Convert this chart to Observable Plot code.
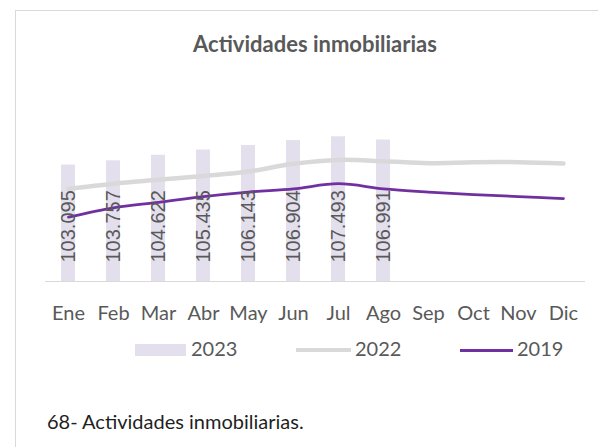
<!DOCTYPE html>
<html><head><meta charset="utf-8">
<script src="https://cdn.jsdelivr.net/npm/d3@7"></script>
<script src="https://cdn.jsdelivr.net/npm/@observablehq/plot@0.6"></script>
<style>
body{margin:0;background:#fff;font-family:Lato,sans-serif;}
#wrap{position:relative;width:598px;height:447px;overflow:hidden;background:#fff;}
#frame{position:absolute;left:15px;top:10px;width:650px;height:500px;border:1px solid #d9d9d9;}
#title{position:absolute;left:45px;width:540px;top:30.5px;text-align:center;font-weight:700;font-size:22px;line-height:26px;color:#595959;}
#chart{position:absolute;left:0;top:60px;}
.leg{position:absolute;top:336px;height:24px;font-size:20px;line-height:24px;color:#595959;}
.sw{position:absolute;}
#caption{position:absolute;left:47px;top:408.5px;font-size:20px;line-height:24px;color:#1f1f1f;}
</style></head>
<body>
<div id="wrap">
<div id="frame"></div>
<div id="title">Actividades inmobiliarias</div>
<div id="chart"></div>
<div id="legend"></div>
<div id="caption">68- Actividades inmobiliarias.</div>
</div>
<script>
const months = ["Ene","Feb","Mar","Abr","May","Jun","Jul","Ago","Sep","Oct","Nov","Dic"];
const values2023 = [103.095,103.757,104.622,105.435,106.143,106.904,107.493,106.991];
const values2022 = [99.4,100.2,100.8,101.4,102.1,103.3,103.9,103.7,103.4,103.55,103.55,103.35];
const values2019 = [95.0,96.46,97.3,98.2,98.9,99.4,100.2,99.4,98.9,98.5,98.2,97.9];
const seriesNames = ["2023","2022","2019"];
const colors = {"2023":"#e4dfec","2022":"#d9d9d9","2019":"#7030a0"};

const bars = values2023.map((v,i)=>({month:months[i], value:v}));
const l2022 = values2022.map((v,i)=>({month:months[i], value:v}));
const l2019 = values2019.map((v,i)=>({month:months[i], value:v}));

const chart = Plot.plot({
  width: 598,
  height: 270,
  marginLeft: 45,
  marginRight: 13,
  marginTop: 28,
  marginBottom: 49,
  style: {fontFamily: "Lato, sans-serif", fontSize: "20px", color: "#595959", background: "transparent"},
  x: {domain: months, paddingInner: 0.7, paddingOuter: 0.35, label: null},
  y: {domain: [85, 115], axis: null},
  marks: [
    Plot.barY(bars, {x: "month", y1: 85, y2: "value", fill: colors["2023"]}),
    Plot.ruleY([85], {stroke: "#d9d9d9", strokeWidth: 1}),
    Plot.line(l2022, {x: "month", y: "value", stroke: colors["2022"], strokeWidth: 4.5, curve: "catmull-rom"}),
    Plot.line(l2019, {x: "month", y: "value", stroke: colors["2019"], strokeWidth: 2.75, curve: "catmull-rom"}),
    Plot.text(bars, {x: "month", frameAnchor: "bottom", dy: -19, rotate: -90, textAnchor: "start", lineAnchor: "middle",
      text: d => d3.format(".3f")(d.value), fill: "#595959", fontFamily: "Liberation Sans, Arial, sans-serif", fontSize: 20}),
    Plot.axisX({tickSize: 0, tickPadding: 24, label: null})
  ]
});
document.getElementById("chart").appendChild(chart);

// legend
const legend = document.getElementById("legend");
const items = [
  {name: seriesNames[0], kind: "box", sx: 135, sw: 51, tx: 191},
  {name: seriesNames[1], kind: "line", sx: 296, sw: 55, tx: 355, th: 4},
  {name: seriesNames[2], kind: "line", sx: 460, sw: 53, tx: 517, th: 3}
];
for (const it of items) {
  const s = document.createElement("div");
  s.className = "sw";
  s.style.left = it.sx + "px";
  s.style.width = it.sw + "px";
  s.style.background = colors[it.name];
  if (it.kind === "box") { s.style.top = "344px"; s.style.height = "12px"; }
  else { s.style.top = (350 - it.th/2) + "px"; s.style.height = it.th + "px"; }
  legend.appendChild(s);
  const t = document.createElement("div");
  t.className = "leg";
  t.style.left = it.tx + "px";
  t.textContent = it.name;
  legend.appendChild(t);
}
</script>
</body></html>
